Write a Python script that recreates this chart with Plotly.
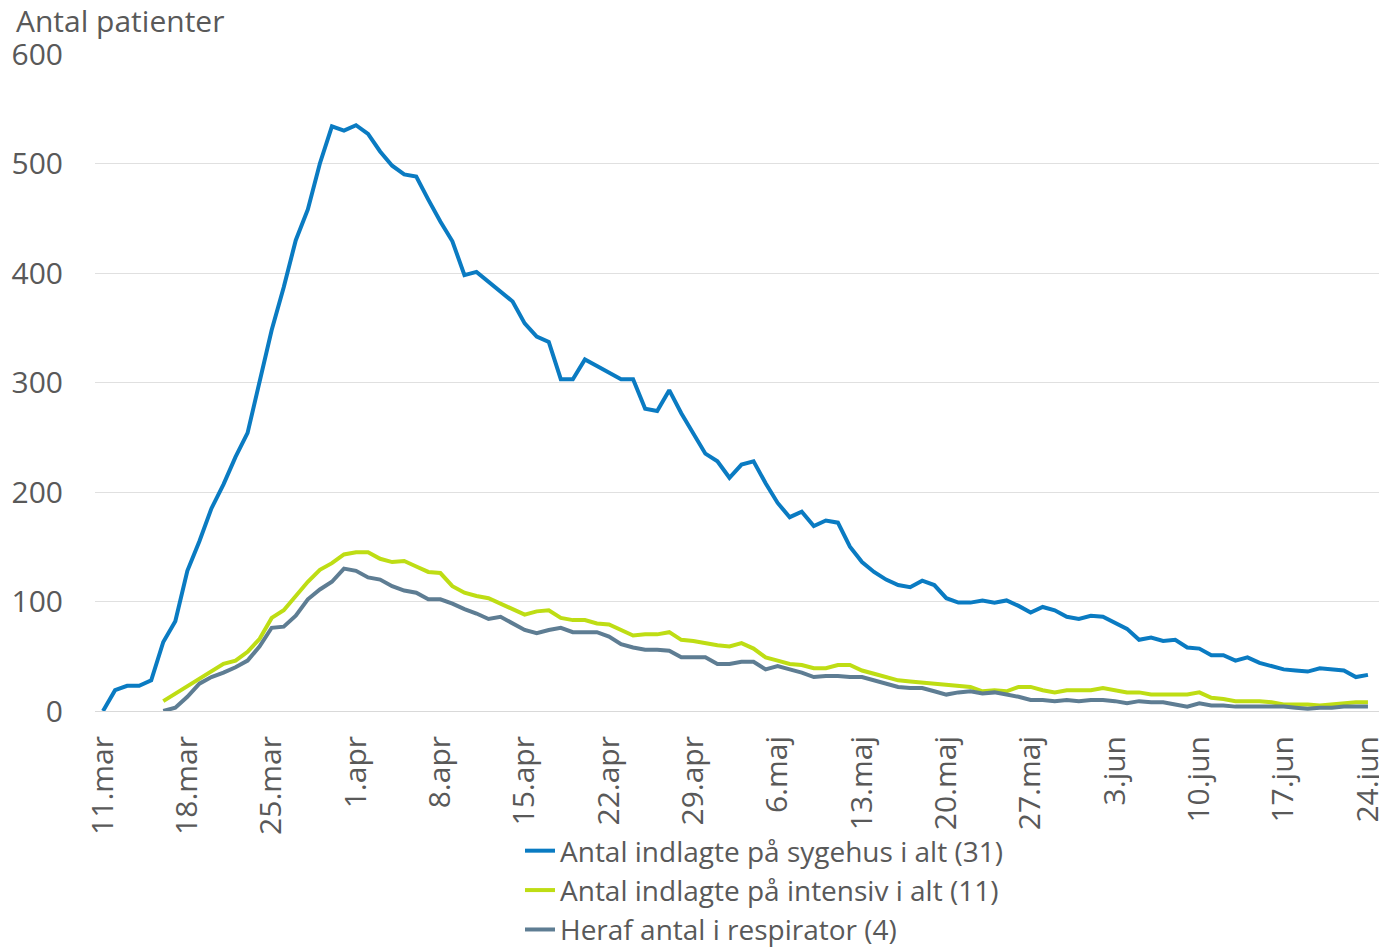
import pandas as pd
import plotly.graph_objects as go

start_date = "2020-03-11"

# Antal indlagte på sygehus i alt (from 11.mar)
sygehus = [0, 19, 23, 23, 28, 63, 82, 128, 155, 185, 207, 232, 254, 300, 348, 387, 430, 458, 500, 534,
           530, 535, 527, 511, 498, 490, 488, 467, 447, 429, 398, 401, 392, 382, 374, 354, 342, 337, 303, 303,
           321, 315, 309, 303, 303, 276, 274, 293, 272, 254, 235, 228, 213, 225, 228, 208, 190, 177, 182, 169,
           174, 172, 150, 136, 127, 120, 115, 113, 119, 115, 103, 99, 99, 101, 99, 101, 96, 90, 95, 92,
           86, 84, 87, 86, 81, 75, 65, 67, 64, 65, 58, 57, 51, 51, 46, 49, 44, 41, 38, 37,
           36, 39, 38, 37, 31, 33]

# Antal indlagte på intensiv i alt (from 16.mar)
intensiv = [9, 16, 22, 30, 37, 43, 46, 54, 66, 85, 92, 105, 118, 129, 135, 143, 145, 145, 139, 136,
            137, 132, 127, 126, 114, 108, 105, 103, 98, 93, 88, 91, 92, 85, 83, 83, 80, 79, 74, 69,
            70, 70, 72, 65, 64, 62, 60, 59, 62, 57, 49, 46, 43, 42, 39, 39, 42, 42, 37, 34,
            31, 28, 27, 26, 25, 24, 23, 22, 18, 19, 18, 22, 22, 19, 17, 19, 19, 19, 21, 19,
            17, 17, 15, 15, 15, 15, 17, 12, 11, 9, 9, 9, 8, 6, 6, 6, 5, 6, 7, 8, 8]

# Heraf antal i respirator (from 16.mar)
respirator = [0, 3, 13, 25, 31, 35, 40, 46, 59, 76, 77, 87, 102, 111, 118, 130, 128, 122, 120, 114,
              110, 108, 102, 102, 98, 93, 89, 84, 86, 80, 74, 71, 74, 76, 72, 72, 72, 68, 61, 58,
              56, 56, 55, 49, 49, 49, 43, 43, 45, 45, 38, 41, 38, 35, 31, 32, 32, 31, 31, 28,
              25, 22, 21, 21, 18, 15, 17, 18, 16, 17, 15, 13, 10, 10, 9, 10, 9, 10, 10, 9,
              7, 9, 8, 8, 6, 4, 7, 5, 5, 4, 4, 4, 4, 4, 3, 2, 3, 3, 4, 4, 4]

tick_labels = ["11.mar", "18.mar", "25.mar", "1.apr", "8.apr", "15.apr", "22.apr", "29.apr",
               "6.maj", "13.maj", "20.maj", "27.maj", "3.jun", "10.jun", "17.jun", "24.jun"]

series_names = ["Antal indlagte på sygehus i alt (31)",
                "Antal indlagte på intensiv i alt (11)",
                "Heraf antal i respirator (4)"]
colors = ["#0A7BC2", "#BEDD14", "#5E7D93"]

dates_all = pd.date_range(start_date, periods=len(sygehus), freq="D")
dates_icu = dates_all[len(sygehus) - len(intensiv):]
tick_dates = pd.date_range(start_date, periods=len(tick_labels), freq="7D")

fig = go.Figure()
for name, xs, ys, c in [(series_names[0], dates_all, sygehus, colors[0]),
                        (series_names[1], dates_icu, intensiv, colors[1]),
                        (series_names[2], dates_icu, respirator, colors[2])]:
    fig.add_trace(go.Scatter(x=xs, y=ys, mode="lines", name=name,
                             line=dict(color=c, width=4)))

font_family = "'Open Sans', sans-serif"
txt = "#595959"
fig.update_layout(
    width=1379, height=950,
    margin=dict(l=95, r=0, t=54, b=239, autoexpand=False),
    plot_bgcolor="white", paper_bgcolor="white",
    font=dict(family=font_family, size=30, color=txt),
    showlegend=True,
    legend=dict(orientation="v", x=0.331, xanchor="left", y=-0.175, yanchor="top",
                font=dict(size=28, color=txt), bgcolor="rgba(0,0,0,0)",
                tracegroupgap=0, itemwidth=30),
    xaxis=dict(type="date", automargin=False,
               range=["2020-03-10 08:00", "2020-06-24 22:00"],
               tickvals=list(tick_dates), ticktext=tick_labels,
               tickangle=-90, showgrid=False,
               showline=True, linecolor="#d9d9d9", linewidth=1,
               ticks="", ticklabelstandoff=12, ticklabeloverflow="allow",
               tickfont=dict(size=30, color=txt)),
    yaxis=dict(range=[0, 600], tickvals=[0, 100, 200, 300, 400, 500, 600],
               automargin=False,
               showgrid=True, gridcolor="#e0e0e0", gridwidth=1,
               zeroline=False, showline=False, ticks="",
               ticklabelstandoff=31,
               tickfont=dict(size=30, color=txt)),
    annotations=[dict(text="Antal patienter", xref="paper", yref="paper",
                      x=-0.063, y=1.0, xanchor="left", yanchor="bottom", yshift=11,
                      showarrow=False, font=dict(size=30, color=txt))],
)

fig.write_html("out.html", config={"displayModeBar": False},
               post_script="document.body.style.margin='0';document.body.style.overflow='hidden';")
